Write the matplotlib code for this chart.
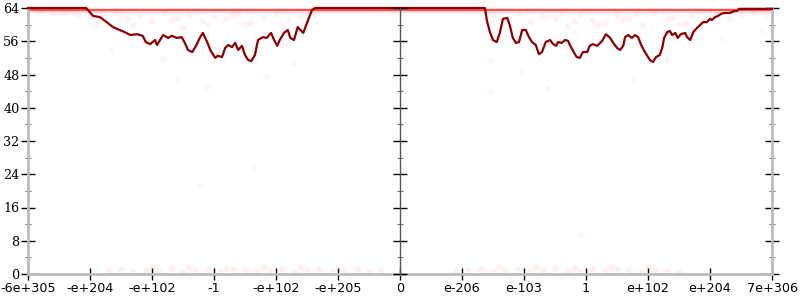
import matplotlib
matplotlib.use('Agg')
import matplotlib.pyplot as plt

# tick positions / labels (x is drawn on an ordered position scale)
x_ticks = [-6, -5, -4, -3, -2, -1, 0, 1, 2, 3, 4, 5, 6]
x_labels = ['-6e+305', '-e+204', '-e+102', '-1', '-e+102', '-e+205', '0',
            'e-206', 'e-103', '1', 'e+102', 'e+204', '7e+306']
y_ticks = [0, 8, 16, 24, 32, 40, 48, 56, 64]
y_minor = [4, 12, 20, 28, 36, 44, 52, 60]

# dark red curve
line_x = [-6.00, -5.06, -5.05, -4.95, -4.84, -4.73, -4.63, -4.52, -4.44, -4.35,
          -4.24, -4.15, -4.10, -4.03, -3.95, -3.92, -3.82, -3.74, -3.68, -3.60,
          -3.52, -3.47, -3.42, -3.35, -3.29, -3.23, -3.18, -3.11, -3.06, -2.98,
          -2.94, -2.87, -2.82, -2.77, -2.71, -2.66, -2.61, -2.55, -2.50, -2.45,
          -2.40, -2.34, -2.29, -2.21, -2.15, -2.08, -2.03, -1.98, -1.94, -1.87,
          -1.81, -1.77, -1.71, -1.65, -1.56, -1.50, -1.45, -1.42, -1.37,
          1.37, 1.40, 1.45, 1.50, 1.56, 1.61, 1.66, 1.73, 1.77, 1.82,
          1.87, 1.92, 1.97, 2.03, 2.08, 2.13, 2.19, 2.24, 2.29, 2.35,
          2.42, 2.47, 2.52, 2.55, 2.61, 2.66, 2.71, 2.74, 2.81, 2.85,
          2.90, 2.95, 3.02, 3.06, 3.11, 3.18, 3.23, 3.27, 3.32, 3.39,
          3.44, 3.50, 3.55, 3.60, 3.63, 3.68, 3.74, 3.79, 3.84, 3.89,
          3.95, 4.00, 4.03, 4.08, 4.13, 4.19, 4.23, 4.26, 4.31, 4.35,
          4.39, 4.44, 4.48, 4.53, 4.60, 4.63, 4.68, 4.73, 4.79, 4.84,
          4.89, 4.95, 5.00, 5.03, 5.08, 5.13, 5.18, 5.23, 5.32, 5.40,
          5.44, 5.47, 5.56, 6.00]
line_y = [64.0, 64.0, 63.8, 62.1, 61.8, 60.6, 59.4, 58.7, 58.2, 57.5,
          57.7, 57.3, 55.8, 55.3, 56.3, 55.1, 57.5, 56.8, 57.3, 56.8,
          57.0, 55.6, 53.9, 53.4, 54.9, 56.8, 58.0, 55.8, 53.9, 52.0,
          52.5, 52.2, 54.4, 55.1, 54.6, 55.6, 53.9, 54.9, 52.7, 51.5,
          51.2, 52.7, 56.3, 57.0, 56.8, 58.0, 56.3, 54.9, 56.3, 58.0,
          58.7, 56.8, 56.3, 59.4, 58.0, 60.4, 62.3, 63.5, 64.0,
          64.0, 61.1, 58.2, 56.3, 55.8, 58.0, 61.4, 61.6, 59.9, 56.8,
          55.6, 55.8, 58.7, 58.7, 57.0, 55.8, 55.1, 52.9, 53.4, 55.8,
          56.3, 55.3, 54.9, 55.8, 55.6, 56.3, 56.1, 55.1, 53.2, 52.2,
          52.0, 53.4, 53.4, 54.9, 55.3, 54.9, 55.6, 56.3, 57.7, 56.8,
          55.6, 54.4, 53.9, 54.9, 57.0, 57.5, 56.8, 57.5, 57.0, 55.1,
          53.4, 52.2, 51.5, 51.0, 52.2, 52.7, 54.4, 56.8, 58.2, 58.5,
          57.5, 58.0, 56.8, 57.7, 58.0, 57.0, 56.3, 58.2, 59.2, 59.9,
          60.6, 60.6, 61.4, 61.1, 61.8, 62.1, 62.6, 62.8, 62.8, 63.3,
          63.3, 63.8, 63.8, 63.8]

# faint sample points
band_x = [-6.0, 6.0]
band_y = [63.6, 63.6]
top_x = [-5.8, -5.6, -5.4, -5.2, -5.0, -4.8, -4.6, -4.4, -4.2, -4.0, -3.8, -3.6,
         -3.4, -3.2, -3.0, -2.8, -2.6, -2.4, -2.2, -2.0, -1.8, -1.6, -1.4,
         -4.9, -4.3, -3.7, -3.1, -2.5, -1.9, -4.5, -3.5, -2.7,
         1.5, 1.7, 1.9, 2.1, 2.3, 2.5, 2.7, 2.9, 3.1, 3.3, 3.5, 3.7, 3.9, 4.1,
         4.3, 4.5, 4.7, 4.9, 5.1, 5.3, 5.5, 5.7, 5.9, 2.0, 2.6, 3.2, 3.8, 4.4, 5.0,
         2.8, 3.6, 4.6]
top_y = [63.2, 62.8, 63.0, 62.3, 61.9, 62.6, 63.1, 61.5, 62.2, 60.8, 62.9, 61.7,
         62.4, 60.9, 62.0, 61.3, 62.7, 60.5, 61.8, 62.5, 61.0, 62.1, 62.9,
         60.2, 59.8, 61.0, 59.9, 60.1, 59.6, 62.0, 59.3, 62.2,
         62.4, 61.2, 62.8, 60.6, 62.0, 61.5, 59.7, 62.6, 61.0, 60.3, 62.2, 61.6,
         60.0, 62.7, 61.3, 59.9, 62.4, 60.8, 62.9, 61.7, 62.3, 63.0, 62.1, 59.5,
         62.9, 59.8, 62.5, 61.9, 63.1, 60.9, 61.4, 60.4]
bottom_x = [-4.7, -4.5, -4.3, -4.1, -3.9, -3.7, -3.5, -3.3, -3.1, -2.9, -2.7, -2.5,
            -2.3, -2.1, -1.9, -1.7, -1.5, -1.3, -1.1, -0.9, -0.7, -0.5, -0.3,
            -4.0, -3.4, -2.8, -2.2, -1.6, -1.0,
            0.9, 1.1, 1.3, 1.5, 1.7, 1.9, 2.1, 2.3, 2.5, 2.7, 2.9, 3.1, 3.3,
            3.5, 3.7, 3.9, 4.1, 4.3, 4.5, 1.6, 2.2, 2.8, 3.4, 4.0]
bottom_y = [0.8, 1.2, 0.5, 1.0, 0.7, 1.4, 0.4, 0.9, 1.1, 0.6, 1.3, 0.8,
            0.5, 1.0, 1.2, 0.6, 0.9, 1.3, 0.4, 0.8, 1.1, 0.6, 0.9,
            1.6, 1.7, 1.5, 1.8, 1.6, 1.5,
            0.7, 1.0, 1.3, 0.5, 0.9, 1.2, 0.6, 1.0, 1.4, 0.8, 0.5, 1.1, 0.7,
            1.3, 0.9, 0.6, 1.0, 0.8, 0.5, 1.6, 1.8, 1.5, 1.7, 1.6]
mid_x = [-4.68, -3.82, -3.60, -1.73, -2.15, -3.11, 1.47, 1.95, 2.39, 1.45,
         3.76, 4.29, 5.84, 5.19, -0.08, 0.05, -3.23, -2.35, 2.9]
mid_y = [53.9, 52.0, 46.9, 50.8, 47.4, 45.0, 51.2, 48.6, 44.8, 43.8,
         46.9, 51.7, 58.7, 56.8, 40.0, 26.0, 21.4, 25.5, 9.5]

fig = plt.figure(figsize=(8, 3), dpi=100)
left, right = 28 / 800, 772 / 800
bottom, top = 26 / 300, 292 / 300
ax = fig.add_axes([left, bottom, right - left, top - bottom])

ax.plot(band_x, band_y, color='red', alpha=0.15, lw=4.5, solid_capstyle='butt')
ax.plot(band_x, band_y, color='red', alpha=0.7, lw=1.3, solid_capstyle='butt')
ax.scatter(top_x, top_y, s=22, color='red', alpha=0.05, lw=0)
ax.scatter(bottom_x, bottom_y, s=22, color='red', alpha=0.06, lw=0, clip_on=False)
ax.scatter(mid_x, mid_y, s=22, color='red', alpha=0.04, lw=0)
ax.plot(line_x, line_y, color='#8b0000', lw=1.6, clip_on=False, zorder=5)

ax.set_xlim(-6, 6)
ax.set_ylim(0, 64)
ax.set_xticks(x_ticks)
ax.set_xticklabels(x_labels, fontsize=9.2, family='DejaVu Sans')
ax.set_yticks(y_ticks)
ax.set_yticklabels([str(v) for v in y_ticks], fontsize=9.2, family='DejaVu Serif')
ax.set_yticks(y_minor, minor=True)

for s in ['left', 'right', 'bottom']:
    ax.spines[s].set_color('#bbbbbb')
    ax.spines[s].set_linewidth(2)
ax.spines['top'].set_visible(False)

ax.tick_params(axis='y', which='major', direction='inout', length=10, width=1,
               color='black', right=True, labelright=False, pad=1)
ax.tick_params(axis='y', which='minor', direction='inout', length=5, width=0.8,
               color='#777777', right=True)
ax.tick_params(axis='x', direction='inout', length=9, width=1, color='black', pad=1)

# centre axis at 0
cax = fig.add_axes([0.5, bottom, 1e-6, top - bottom])
cax.set_ylim(0, 64)
cax.set_yticks(y_ticks)
cax.set_yticks(y_minor, minor=True)
cax.set_yticklabels([])
cax.set_xticks([])
for s in ['top', 'right', 'bottom']:
    cax.spines[s].set_visible(False)
cax.spines['left'].set_color('#555555')
cax.spines['left'].set_linewidth(1)
cax.patch.set_visible(False)
cax.tick_params(axis='y', which='major', direction='inout', length=10, width=1, color='black')
cax.tick_params(axis='y', which='minor', direction='inout', length=5, width=0.8, color='#777777')

fig.savefig('out.png', dpi=100)
